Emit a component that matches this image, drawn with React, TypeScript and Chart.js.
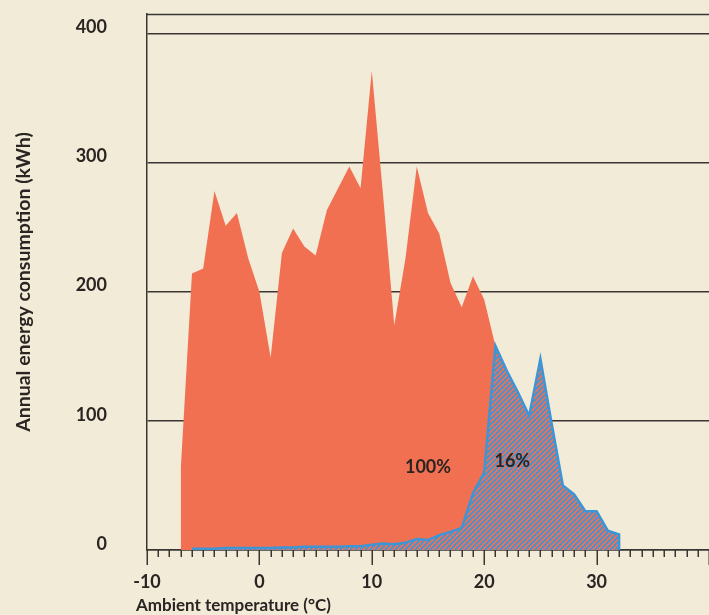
import { useEffect, useRef } from 'react';
import { Chart, registerables } from 'chart.js';

Chart.register(...registerables);

// ---- data ----
const temps = [-7, -6, -5, -4, -3, -2, -1, 0, 1, 2, 3, 4, 5, 6, 7, 8, 9, 10, 11, 12, 13, 14, 15, 16, 17, 18, 19, 20, 21, 22, 23, 24, 25, 26, 27, 28, 29, 30, 31, 32];
const totalKwh = [62, 214, 218, 278, 251, 261, 226, 200, 149, 230, 249, 235, 228, 263, 280, 297, 280, 371, 275, 174, 226, 297, 261, 245, 207, 188, 212, 194, 158, 139, 122, 104, 148, 98, 50, 43, 30, 30, 15, 12];
const hpTemps = [-6, -5, -4, -3, -2, -1, 0, 1, 2, 3, 4, 5, 6, 7, 8, 9, 10, 11, 12, 13, 14, 15, 16, 17, 18, 19, 20, 21, 22, 23, 24, 25, 26, 27, 28, 29, 30, 31, 32];
const hpKwh = [1, 1, 1, 1.5, 1.5, 1.5, 1.5, 1.5, 2, 2, 2.5, 2.5, 2.5, 2.5, 3, 3, 4, 5, 4.5, 5.7, 8.5, 7.7, 11.5, 14, 17, 44, 60, 158, 139, 122, 104, 148, 98, 50, 43, 30, 30, 15, 12];
const yTickLabels = [0, 100, 200, 300, 400];
const xTickLabels = [-10, 0, 10, 20, 30];
const shareTexts = ['100%', '16%'];
const shareTemps = [15, 22.5];
const shareKwh = [64, 69];

const BG = '#F2EBD8';
const ORANGE = '#F27052';
const BLUE = '#3E95D6';
const INK = '#2A2522';
const GRID = '#3A3633';
const FONT = 'Lato, "Open Sans", sans-serif';

const zeroPad = (sc: any) => {
  sc.paddingTop = 0;
  sc.paddingBottom = 0;
  sc.paddingLeft = 0;
  sc.paddingRight = 0;
};

export default function App() {
  const ref = useRef<HTMLCanvasElement | null>(null);

  useEffect(() => {
    const canvas = ref.current;
    if (!canvas) return;
    document.body.style.margin = '0';
    document.body.style.background = BG;

    const ctx0 = canvas.getContext('2d')!;
    const tile = document.createElement('canvas');
    const s = 5;
    tile.width = s;
    tile.height = s;
    const g = tile.getContext('2d')!;
    g.fillStyle = ORANGE;
    g.fillRect(0, 0, s, s);
    g.strokeStyle = BLUE;
    g.lineWidth = 1.8;
    g.beginPath();
    g.moveTo(0, s);
    g.lineTo(s, 0);
    g.moveTo(-1, 1);
    g.lineTo(1, -1);
    g.moveTo(s - 1, s + 1);
    g.lineTo(s + 1, s - 1);
    g.stroke();
    const hatch = ctx0.createPattern(tile, 'repeat')!;

    const bgPlugin = {
      id: 'bg',
      beforeDraw(chart: any) {
        const c = chart.ctx;
        c.save();
        c.fillStyle = BG;
        c.fillRect(0, 0, chart.width, chart.height);
        c.restore();
      },
    };

    const decoPlugin = {
      id: 'deco',
      afterDatasetsDraw(chart: any) {
        const c = chart.ctx;
        const xs = chart.scales.x;
        const ys = chart.scales.y;
        c.save();
        c.fillStyle = INK;
        c.font = `bold 18px ${FONT}`;
        c.textAlign = 'center';
        c.textBaseline = 'middle';
        shareTexts.forEach((t, i) => {
          c.fillText(t, xs.getPixelForValue(shareTemps[i]), ys.getPixelForValue(shareKwh[i]));
        });
        c.restore();
      },
      afterDraw(chart: any) {
        const c = chart.ctx;
        const xs = chart.scales.x;
        const { left, right, top, bottom } = chart.chartArea;
        c.save();
        c.strokeStyle = GRID;
        c.lineWidth = 1.5;
        c.beginPath();
        // frame top edge
        c.moveTo(left, top + 0.5);
        c.lineTo(right, top + 0.5);
        xs.ticks.forEach((t: any) => {
          const px = Math.round(xs.getPixelForValue(t.value)) + 0.25;
          const len = t.value % 10 === 0 ? 15 : 7;
          c.moveTo(px, bottom);
          c.lineTo(px, bottom + len);
        });
        c.stroke();
        c.fillStyle = INK;
        c.font = `bold 17px ${FONT}`;
        c.textAlign = 'left';
        c.textBaseline = 'alphabetic';
        c.fillText('Ambient temperature (°C)', left - 11, 611);
        c.restore();
      },
    };

    const tickFont = { family: FONT, weight: 'bold' as const, size: 18 };

    const chart = new Chart(canvas, {
      type: 'line',
      data: {
        datasets: [
          {
            label: 'Heat pump',
            data: hpTemps
              .map((t, i) => ({ x: t, y: hpKwh[i] }))
              .concat([{ x: hpTemps[hpTemps.length - 1], y: 0 }]),
            borderColor: BLUE,
            borderWidth: 2.5,
            backgroundColor: hatch as any,
            fill: 'origin',
            pointRadius: 0,
            tension: 0,
            borderJoinStyle: 'miter',
          },
          {
            label: 'Conventional',
            data: temps.map((t, i) => ({ x: t, y: totalKwh[i] })),
            borderColor: ORANGE,
            borderWidth: 0,
            backgroundColor: ORANGE,
            fill: 'origin',
            pointRadius: 0,
            tension: 0,
          },
        ],
      },
      options: {
        animation: false,
        responsive: false,
        maintainAspectRatio: false,
        layout: { padding: { top: 14, left: 0, right: 0, bottom: 0 } },
        plugins: { legend: { display: false }, tooltip: { enabled: false } },
        scales: {
          x: {
            type: 'linear',
            min: -10,
            max: 40,
            afterFit: (sc: any) => {
              sc.height = 65;
              zeroPad(sc);
            },
            ticks: {
              stepSize: 1,
              autoSkip: false,
              maxRotation: 0,
              minRotation: 0,
              includeBounds: false,
              callback: (v: any) => (xTickLabels.includes(Number(v)) ? String(v) : ''),
              padding: 21,
              font: tickFont,
              color: INK,
            },
            grid: { display: true, drawOnChartArea: false, drawTicks: false },
            border: { display: true, color: GRID, width: 1.5 },
          },
          y: {
            type: 'linear',
            min: 0,
            max: 415,
            afterFit: (sc: any) => {
              sc.width = 147;
              zeroPad(sc);
            },
            ticks: {
              stepSize: 100,
              includeBounds: false,
              callback: (v: any) => (yTickLabels.includes(Number(v)) ? String(v) : ''),
              padding: 40,
              labelOffset: -6,
              font: tickFont,
              color: INK,
            },
            grid: { color: GRID, lineWidth: 1.5, drawTicks: false },
            border: { display: true, color: GRID, width: 1.5 },
            title: {
              display: true,
              text: 'Annual energy consumption (kWh)',
              font: { family: FONT, weight: 'bold', size: 19.5 },
              color: INK,
              padding: { top: 12, bottom: 0 },
            },
          },
        },
      },
      plugins: [bgPlugin, decoPlugin],
    });

    return () => chart.destroy();
  }, []);

  return (
    <div style={{ position: 'absolute', left: 0, top: 0, width: 709, height: 615, background: BG }}>
      <canvas ref={ref} width={709} height={615} style={{ width: 709, height: 615, display: 'block' }} />
    </div>
  );
}
